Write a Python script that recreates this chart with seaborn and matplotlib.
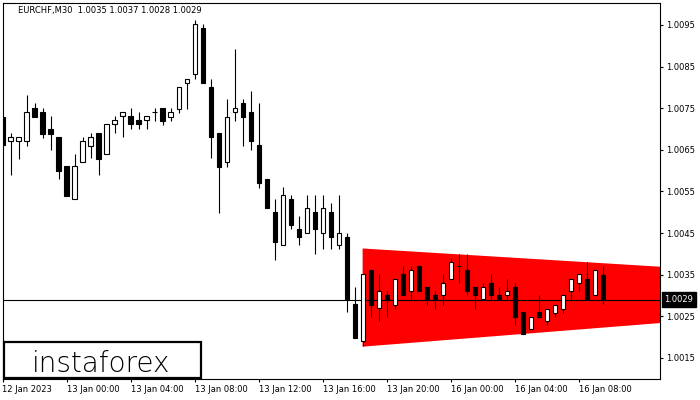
import matplotlib
matplotlib.use("Agg")
import matplotlib.pyplot as plt
import matplotlib.transforms as mtransforms
from matplotlib.patches import Rectangle
import numpy as np
import pandas as pd
import seaborn as sns

# ---------------- data ----------------
symbol_title = "EURCHF,M30  1.0035 1.0037 1.0028 1.0029"

opens = [1.00729, 1.00670, 1.00670, 1.00670, 1.00750, 1.00740, 1.00699, 1.00680,
         1.00610, 1.00531, 1.00620, 1.00660, 1.00690, 1.00639, 1.00711, 1.00731,
         1.00731, 1.00721, 1.00721, 1.00740, 1.00750, 1.00730, 1.00749, 1.00810,
         1.00832, 1.00942, 1.00800, 1.00690, 1.00620, 1.00740, 1.00762, 1.00740,
         1.00661, 1.00580, 1.00500, 1.00420, 1.00531, 1.00459, 1.00449, 1.00500,
         1.00449, 1.00500, 1.00420, 1.00440, 1.00279, 1.00190, 1.00361, 1.00269,
         1.00300, 1.00278, 1.00351, 1.00310, 1.00371, 1.00320, 1.00300, 1.00300,
         1.00339, 1.00371, 1.00361, 1.00320, 1.00291, 1.00329, 1.00300, 1.00300,
         1.00320, 1.00259, 1.00219, 1.00259, 1.00239, 1.00258, 1.00268, 1.00310,
         1.00329, 1.00339, 1.00300, 1.00350]
highs = [1.00729, 1.00691, 1.00680, 1.00782, 1.00762, 1.00750, 1.00731, 1.00680,
         1.00610, 1.00640, 1.00680, 1.00690, 1.00690, 1.00711, 1.00731, 1.00740,
         1.00751, 1.00740, 1.00731, 1.00750, 1.00750, 1.00750, 1.00800, 1.00820,
         1.00962, 1.00952, 1.00820, 1.00690, 1.00771, 1.00892, 1.00771, 1.00791,
         1.00762, 1.00580, 1.00531, 1.00560, 1.00541, 1.00491, 1.00541, 1.00541,
         1.00541, 1.00521, 1.00541, 1.00449, 1.00320, 1.00351, 1.00361, 1.00351,
         1.00310, 1.00339, 1.00371, 1.00371, 1.00371, 1.00320, 1.00310, 1.00351,
         1.00390, 1.00400, 1.00400, 1.00320, 1.00329, 1.00351, 1.00320, 1.00339,
         1.00329, 1.00259, 1.00249, 1.00300, 1.00268, 1.00278, 1.00300, 1.00339,
         1.00351, 1.00380, 1.00360, 1.00370]
lows = [1.00662, 1.00589, 1.00628, 1.00660, 1.00730, 1.00679, 1.00650, 1.00579,
        1.00540, 1.00531, 1.00620, 1.00630, 1.00589, 1.00639, 1.00690, 1.00680,
        1.00699, 1.00699, 1.00699, 1.00720, 1.00710, 1.00720, 1.00739, 1.00749,
        1.00820, 1.00810, 1.00630, 1.00499, 1.00609, 1.00720, 1.00660, 1.00650,
        1.00559, 1.00509, 1.00385, 1.00420, 1.00459, 1.00420, 1.00449, 1.00399,
        1.00411, 1.00411, 1.00411, 1.00261, 1.00198, 1.00179, 1.00249, 1.00239,
        1.00249, 1.00268, 1.00300, 1.00291, 1.00310, 1.00278, 1.00268, 1.00278,
        1.00339, 1.00329, 1.00300, 1.00268, 1.00291, 1.00291, 1.00291, 1.00291,
        1.00230, 1.00208, 1.00219, 1.00249, 1.00230, 1.00249, 1.00258, 1.00291,
        1.00310, 1.00291, 1.00300, 1.00280]
closes = [1.00662, 1.00680, 1.00680, 1.00740, 1.00730, 1.00689, 1.00689, 1.00600,
          1.00540, 1.00610, 1.00670, 1.00680, 1.00629, 1.00711, 1.00721, 1.00740,
          1.00711, 1.00711, 1.00731, 1.00740, 1.00720, 1.00740, 1.00800, 1.00820,
          1.00952, 1.00810, 1.00680, 1.00609, 1.00730, 1.00750, 1.00730, 1.00670,
          1.00570, 1.00509, 1.00429, 1.00541, 1.00469, 1.00440, 1.00509, 1.00459,
          1.00509, 1.00440, 1.00449, 1.00291, 1.00198, 1.00351, 1.00278, 1.00310,
          1.00291, 1.00339, 1.00300, 1.00360, 1.00310, 1.00291, 1.00291, 1.00329,
          1.00380, 1.00371, 1.00310, 1.00300, 1.00320, 1.00300, 1.00291, 1.00310,
          1.00249, 1.00208, 1.00249, 1.00249, 1.00268, 1.00278, 1.00300, 1.00339,
          1.00351, 1.00291, 1.00360, 1.00290]

time_labels = ["12 Jan 2023", "13 Jan 00:00", "13 Jan 04:00", "13 Jan 08:00",
               "13 Jan 12:00", "13 Jan 16:00", "13 Jan 20:00", "16 Jan 00:00",
               "16 Jan 04:00", "16 Jan 08:00"]
bars_per_label = 8

price_ticks = [1.0015, 1.0025, 1.0035, 1.0045, 1.0055, 1.0065, 1.0075, 1.0085, 1.0095]
bid_price = 1.0029

# triangle pattern (start/end bar index, upper and lower bounds)
pattern_x = [44.9, 82.2]
pattern_upper = [1.00414, 1.00370]
pattern_lower = [1.00178, 1.00235]

logo_text = "instaforex"

# ---------------- style ----------------
sns.set_theme(style="white")
plt.rcParams["font.family"] = ["DejaVu Sans"]

df = pd.DataFrame({"open": opens, "high": highs, "low": lows, "close": closes})
df["idx"] = np.arange(len(df))
df["bottom"] = df[["open", "close"]].min(axis=1)
df["height"] = (df["close"] - df["open"]).abs()
df["bull"] = df["close"] >= df["open"]

W, H = 700, 400
fig = plt.figure(figsize=(7, 4), dpi=100)
fig.patch.set_facecolor("white")
left_px, right_px, top_px, bottom_px = 2.5, 659.5, 2.7, 378.7
ax = fig.add_axes([left_px / W, 1 - bottom_px / H,
                   (right_px - left_px) / W, (bottom_px - top_px) / H])
ax.set_facecolor("white")

# red triangle
ax.fill_between(pattern_x, pattern_upper, pattern_lower, color="#ff0000",
                linewidth=0, zorder=1)

# bid line
ax.axhline(bid_price, color="black", linewidth=0.8, zorder=1.5)

# wicks
ax.vlines(df["idx"], df["low"], df["high"], color="black", linewidth=0.8, zorder=2)

# bodies
colors = np.where(df["bull"], "white", "black")
ax.bar(df["idx"], df["height"], bottom=df["bottom"], width=0.55,
       color=colors, edgecolor="black", linewidth=0.8, zorder=3)

ax.set_xlim(0.05, 82.03)
ax.set_ylim(1.000998, 1.010036)

for sp in ax.spines.values():
    sp.set_color("black")
    sp.set_linewidth(0.8)
    sp.set_visible(True)

# y axis on right
ax.yaxis.tick_right()
ax.set_yticks(price_ticks)
ax.set_yticklabels([f"{p:.4f}" for p in price_ticks])
ax.tick_params(axis="y", which="both", right=True, left=False, direction="out",
               length=2.5, width=0.8, pad=2, labelsize=6, colors="black")

# x axis
xt = [i * bars_per_label for i in range(len(time_labels))]
ax.set_xticks(xt)
ax.set_xticklabels(time_labels)
ax.tick_params(axis="x", which="both", bottom=True, direction="out",
               length=2.5, width=0.8, pad=2, labelsize=6, colors="black")
for lbl in ax.get_xticklabels():
    lbl.set_horizontalalignment("left")
    lbl.set_clip_on(False)
ax.grid(False)

# title
ax.text((18.3 - left_px) / (right_px - left_px), 1 - (10 - top_px) / (bottom_px - top_px),
        symbol_title, transform=ax.transAxes, fontsize=6, color="black",
        ha="left", va="center")

# price label box
trans = mtransforms.blended_transform_factory(ax.transAxes, ax.transData)
ax.text((664.5 - left_px) / (right_px - left_px), bid_price, f"{bid_price:.4f}",
        transform=trans, fontsize=6, color="white", ha="left", va="center",
        bbox=dict(boxstyle="square,pad=0.35", fc="black", ec="black"),
        clip_on=False, zorder=10)

# logo box
bx0, bx1, by0, by1 = 3.5, 200.5, 341.5, 378.0
rect = Rectangle((bx0 / W, 1 - by1 / H), (bx1 - bx0) / W, (by1 - by0) / H,
                 transform=fig.transFigure, facecolor="white", edgecolor="black",
                 linewidth=1.6, zorder=20)
fig.patches.append(rect)
fig.text(100.8 / W, 1 - 371.7 / H, logo_text, fontsize=20, color="#000000",
         ha="center", va="baseline", zorder=21, fontweight="light")

fig.savefig("out.png", dpi=100, facecolor="white")
